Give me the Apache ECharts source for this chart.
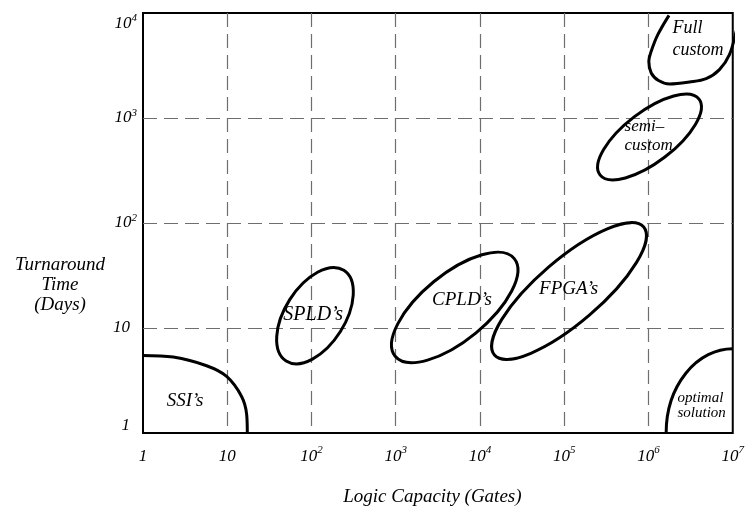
<!DOCTYPE html>
<html>
<head>
<meta charset="utf-8">
<script src="https://cdn.jsdelivr.net/npm/echarts@6/dist/echarts.min.js"></script>
<style>
html,body{margin:0;padding:0;background:#fff;}
#chart{width:747px;height:513px;}
</style>
</head>
<body>
<div id="chart"></div>
<script>
// ---- data (gates, days) ----
const xTickLabels = ['1', '10', '10^2', '10^3', '10^4', '10^5', '10^6', '10^7'];
const yTickLabels = ['1', '10', '10^2', '10^3', '10^4'];
const xTitle = 'Logic Capacity (Gates)';
const yTitle = 'Turnaround\nTime\n(Days)';

// closed regions: centre, end of major axis, end of minor axis
const regionNames = ['SPLD', 'CPLD', 'FPGA', 'semi-custom', 'optimal solution'];
const regionCenter   = [[110, 13.1], [5012, 15.7], [114100, 22.5], [1.028e6, 660], [1e7, 1]];
const regionMajorEnd = [[242, 35.4], [25500, 45.8], [877000, 91.7], [3.98e6, 1514], [1e7, 6.34]];
const regionMinorEnd = [[219, 9.19], [8913, 8.95], [200000, 13.3], [1.566e6, 425], [1.62e6, 1]];

// open outlines
const ssiOutline = [[1, 5.48], [2.29, 5.29], [5.69, 4.37], [9.83, 3.46], [14.8, 2.23], [17.0, 1.5], [17.3, 1]];
const fullCustomOutline = [[1.75e6, 9500], [1.290e6, 6215], [1.077e6, 4319], [1.009e6, 3469], [1.077e6, 2685],
  [1.315e6, 2277], [1.776e6, 2110], [3.064e6, 2204], [4.836e6, 2369], [6.954e6, 2886], [9.138e6, 4009],
  [1.097e7, 6694], [1.200e7, 9361]];

// region labels
const labelTexts = ["SSI\u2019s", "SPLD\u2019s", "CPLD\u2019s", "FPGA\u2019s", 'semi\u2013\ncustom', 'Full\ncustom', 'optimal\nsolution'];
const labelAnchors = [[3.15, 2.0], [104.6, 13.4], [6113, 18.6], [112600, 23.5], [519500, 672], [1.927e6, 5630], [2.209e6, 1.81]];

// ---- styles ----
const FONT = '"Liberation Serif", "Times New Roman", serif';
const labelStyle = [
  {size: 19, align: 'center', lh: 20},
  {size: 20, align: 'center', lh: 20},
  {size: 19, align: 'center', lh: 20},
  {size: 19, align: 'center', lh: 20},
  {size: 17, align: 'left', lh: 19},
  {size: 18, align: 'left', lh: 22},
  {size: 15, align: 'left', lh: 15}
];

function tickFormatter(labels, plainStyle) {
  return function (v) {
    const e = Math.round(Math.log10(v));
    const t = labels[e];
    if (t === undefined) return '';
    const parts = t.split('^');
    if (parts.length === 1) return '{' + plainStyle + '|' + parts[0] + '}';
    return '{b|' + parts[0] + '}{s|' + parts[1] + '}';
  };
}
const xRich = {
  b: {fontSize: 17, fontStyle: 'italic', fontFamily: FONT, color: '#000', lineHeight: 24},
  s: {fontSize: 11, fontStyle: 'italic', fontFamily: FONT, color: '#000', lineHeight: 12, verticalAlign: 'top'}
};
const yRich = {
  b: {fontSize: 17, fontStyle: 'italic', fontFamily: FONT, color: '#000', lineHeight: 21},
  p: {fontSize: 17, fontStyle: 'italic', fontFamily: FONT, color: '#000', lineHeight: 15, padding: [0, 7, 0, 0]},
  s: {fontSize: 11, fontStyle: 'italic', fontFamily: FONT, color: '#000', lineHeight: 12, verticalAlign: 'top'}
};
const gridLine = {show: true, showMinLine: false, showMaxLine: false,
  lineStyle: {color: '#6e6e6e', width: 1.2, type: [14, 7]}};

const chart = echarts.init(document.getElementById('chart'), null, {renderer: 'canvas'});
chart.setOption({
  animation: false,
  backgroundColor: '#fff',
  grid: {left: 143, right: 14, top: 13, bottom: 80, show: true, borderColor: '#000', borderWidth: 2, backgroundColor: 'transparent'},
  graphic: [{
    type: 'text', x: 60, y: 285,
    style: {text: yTitle, align: 'center', verticalAlign: 'middle', lineHeight: 20,
      font: 'italic 19px ' + FONT, fill: '#000'}
  }],
  xAxis: {
    type: 'log', logBase: 10, min: 1, max: 1e7,
    axisLine: {show: false}, axisTick: {show: false},
    splitLine: gridLine,
    axisLabel: {formatter: tickFormatter(xTickLabels, 'b'), rich: xRich, margin: 12, showMinLabel: true, showMaxLabel: true},
    name: xTitle, nameLocation: 'middle', nameGap: 54,
    nameTextStyle: {fontSize: 19, fontStyle: 'italic', fontFamily: FONT, color: '#000', padding: [0, 11, 0, 0]}
  },
  yAxis: {
    type: 'log', logBase: 10, min: 1, max: 1e4,
    axisLine: {show: false}, axisTick: {show: false},
    splitLine: gridLine,
    axisLabel: {formatter: tickFormatter(yTickLabels, 'p'), rich: yRich, margin: 6,
      verticalAlignMinLabel: 'bottom', verticalAlignMaxLabel: 'top', showMinLabel: true, showMaxLabel: true}
  },
  series: [
    {
      type: 'custom', name: 'regions', clip: true,
      data: regionCenter.map((c, i) => [c[0], c[1], regionMajorEnd[i][0], regionMajorEnd[i][1], regionMinorEnd[i][0], regionMinorEnd[i][1]]),
      encode: {x: 0, y: 1},
      renderItem: function (params, api) {
        const c = api.coord([api.value(0), api.value(1)]);
        const m = api.coord([api.value(2), api.value(3)]);
        const n = api.coord([api.value(4), api.value(5)]);
        const dx = m[0] - c[0], dy = m[1] - c[1];
        const rx = Math.hypot(dx, dy), ry = Math.hypot(n[0] - c[0], n[1] - c[1]);
        const ang = Math.atan2(dy, dx) * 180 / Math.PI;
        const x1 = c[0] - dx, y1 = c[1] - dy, x2 = c[0] + dx, y2 = c[1] + dy;
        const d = 'M' + x1 + ' ' + y1 + 'A' + rx + ' ' + ry + ' ' + ang + ' 0 1 ' + x2 + ' ' + y2 +
                  'A' + rx + ' ' + ry + ' ' + ang + ' 0 1 ' + x1 + ' ' + y1 + 'Z';
        return {type: 'path', shape: {pathData: d}, style: {fill: 'none', stroke: '#000', lineWidth: 3}};
      }
    },
    {
      type: 'line', name: 'SSI', data: ssiOutline, smooth: 0.35, symbol: 'none', clip: true,
      lineStyle: {color: '#000', width: 3}
    },
    {
      type: 'line', name: 'Full custom', data: fullCustomOutline, smooth: 0.35, symbol: 'none', clip: false,
      lineStyle: {color: '#000', width: 3}
    },
    {
      type: 'custom', name: 'labels', clip: false,
      data: labelAnchors.map((p, i) => [p[0], p[1], i]),
      encode: {x: 0, y: 1},
      renderItem: function (params, api) {
        const i = api.value(2);
        const pt = api.coord([api.value(0), api.value(1)]);
        const st = labelStyle[i];
        return {type: 'text', x: pt[0], y: pt[1], style: {
          text: labelTexts[i], fill: '#000',
          font: 'italic ' + st.size + 'px ' + FONT,
          align: st.align, verticalAlign: 'middle', lineHeight: st.lh
        }};
      }
    }
  ]
});
</script>
</body>
</html>
